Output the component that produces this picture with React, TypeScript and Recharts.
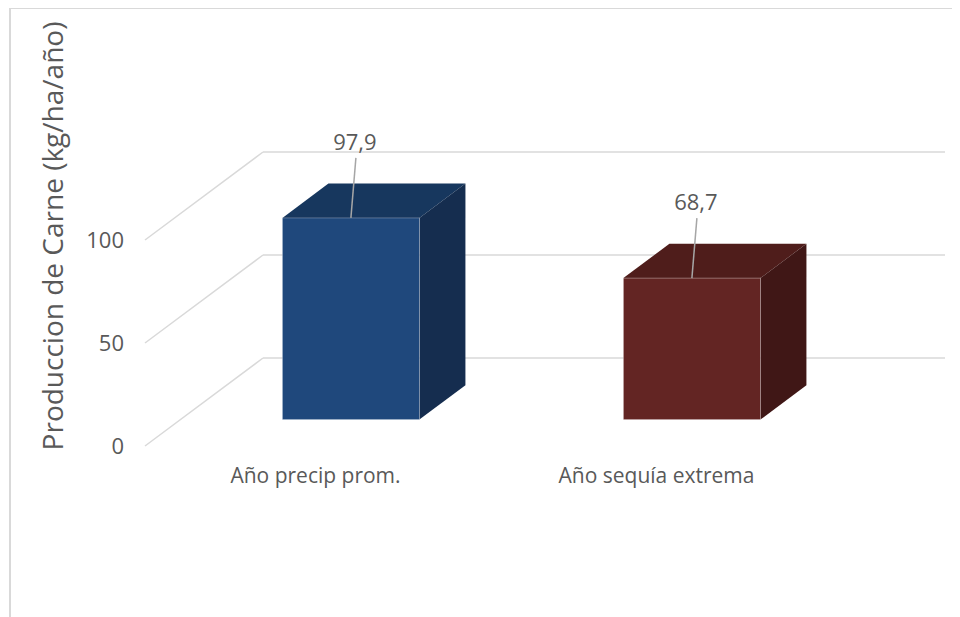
import React from "react";
import { BarChart, Bar, XAxis, YAxis, CartesianGrid } from "recharts";

const categories = ["Año precip prom.", "Año sequía extrema"];
const values = [97.9, 68.7];
const valueLabels = ["97,9", "68,7"];
const yTicks = [0, 50, 100];
const yTitle = "Produccion de Carne (kg/ha/año)";

const frontColors = ["#1F487C", "#632523"];
const topColors = ["#17375E", "#4F1D1B"];
const sideColors = ["#152D4F", "#401716"];

const data = categories.map((name, i) => ({ name, value: values[i], label: valueLabels[i] }));

// 3D depth vector of the floor/walls
const DEPTH_X = 118;
const DEPTH_Y = -88;
const BAR_FRONT = 0.3;
const BAR_BACK = 0.69;

const FONT = "'Open Sans', 'Noto Sans', sans-serif";
const TEXT = "#595959";
const GRID = "#D9D9D9";

function GridLine(props: any) {
  const { x1, x2, y1 } = props;
  const bx = x1 + DEPTH_X;
  const by = y1 + DEPTH_Y;
  return (
    <g key={props.key}>
      <line x1={x1} y1={y1} x2={bx} y2={by} stroke={GRID} strokeWidth={1.5} />
      <line x1={bx} y1={by} x2={x2 + DEPTH_X} y2={by} stroke={GRID} strokeWidth={1.5} />
    </g>
  );
}

function Bar3D(props: any) {
  const { x, y, width, height, index, payload } = props;
  const fx = x + DEPTH_X * BAR_FRONT;
  const fy = y + DEPTH_Y * BAR_FRONT;
  const bx = DEPTH_X * (BAR_BACK - BAR_FRONT);
  const by = DEPTH_Y * (BAR_BACK - BAR_FRONT);
  const cx = fx + width / 2;
  const top = `${fx},${fy} ${fx + bx},${fy + by} ${fx + width + bx},${fy + by} ${fx + width},${fy}`;
  const side = `${fx + width},${fy} ${fx + width + bx},${fy + by} ${fx + width + bx},${fy + height + by} ${fx + width},${fy + height}`;
  return (
    <g>
      <polygon points={top} fill={topColors[index]} />
      <polygon points={side} fill={sideColors[index]} />
      <rect x={fx} y={fy} width={width} height={height} fill={frontColors[index]} stroke="rgba(255,255,255,0.35)" strokeWidth={0.8} />
      <line x1={cx} y1={fy} x2={cx + 5} y2={fy - 60} stroke="#A6A6A6" strokeWidth={1.5} />
      <text x={cx + 4} y={fy - 77} textAnchor="middle" dominantBaseline="central" fontSize={22} fontFamily={FONT} fill={TEXT}>
        {payload.label}
      </text>
    </g>
  );
}

function Title(props: any) {
  const cx = 55;
  const cy = 228;
  return (
    <text x={cx} y={cy} transform={`rotate(-90, ${cx}, ${cy})`} textAnchor="middle" fontSize={28} fontFamily={FONT} fill={TEXT}>
      {yTitle}
    </text>
  );
}

export default function App() {
  return (
    <div style={{ position: "relative", width: 952, height: 609, overflow: "hidden", background: "#fff" }}>
      <style>{"html,body{overflow:hidden}"}</style>
      <div
        style={{
          position: "absolute",
          left: 1,
          top: -1,
          width: 2000,
          height: 2000,
          borderTop: `2px solid ${GRID}`,
          borderLeft: `2px solid ${GRID}`,
          boxSizing: "border-box",
        }}
      />
      <div style={{ position: "absolute", left: 0, top: 0 }}>
        <BarChart width={952} height={600} data={data} margin={{ top: 232, right: 133, bottom: 132, left: 77 }} barSize={137}>
          <CartesianGrid vertical={false} horizontal={(p: any) => <GridLine {...p} />} />
          <XAxis
            dataKey="name"
            axisLine={false}
            tickLine={false}
            tickSize={0}
            tickMargin={22}
            height={30}
            interval={0}
            tick={{ fontSize: 21, fill: TEXT, fontFamily: FONT }}
          />
          <YAxis
            domain={[0, 100]}
            ticks={yTicks}
            width={60}
            axisLine={false}
            tickLine={false}
            tickSize={0}
            tickMargin={21}
            tick={{ fontSize: 22, fill: TEXT, fontFamily: FONT }}
            label={{ content: (p: any) => <Title {...p} /> }}
          />
          <Bar dataKey="value" shape={(p: any) => <Bar3D {...p} />} isAnimationActive={false} />
        </BarChart>
      </div>
    </div>
  );
}
